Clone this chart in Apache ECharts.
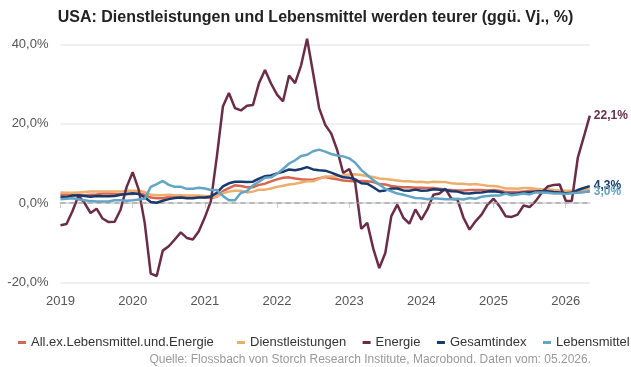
<!DOCTYPE html>
<html>
<head>
<meta charset="utf-8">
<script src="https://cdn.jsdelivr.net/npm/echarts@6/dist/echarts.min.js"></script>
<style>
  html, body { margin: 0; padding: 0; background: #ffffff; }
  #chart { width: 631px; height: 367px; }
</style>
</head>
<body>
<div id="chart"></div>
<script>
// Monthly year-over-year rates, Jan 2019 – May 2026
const firstYear = 2019;
const monthCount = 89;

const allExFoodEnergy = [
  2.2, 2.1, 2.0, 2.1, 2.0, 2.1, 2.2, 2.4, 2.4, 2.3, 2.3, 2.3,
  2.3, 2.4, 2.1, 1.4, 1.2, 1.2, 1.6, 1.7, 1.7, 1.6, 1.6, 1.6,
  1.4, 1.3, 1.6, 3.0, 3.8, 4.5, 4.3, 4.0, 4.0, 4.6, 4.9, 5.5,
  6.0, 6.4, 6.5, 6.2, 6.0, 5.9, 5.9, 6.3, 6.6, 6.3, 6.0, 5.7,
  5.6, 5.5, 5.6, 5.5, 5.3, 4.8, 4.7, 4.3, 4.1, 4.0, 4.0, 3.9,
  3.9, 3.8, 3.8, 3.6, 3.4, 3.3, 3.2, 3.2, 3.3, 3.3, 3.3, 3.2,
  3.3, 3.1, 2.8, 2.8, 2.8, 2.9, 3.1, 3.1, 3.0, 3.0, 2.9, 2.7,
  2.6, 2.6, 2.7, 2.8, 2.9
];

const services = [
  2.7, 2.6, 2.6, 2.7, 2.8, 2.9, 2.9, 2.9, 2.9, 2.9, 2.9, 3.1,
  3.1, 3.1, 2.8, 2.1, 2.0, 2.0, 2.1, 2.0, 2.0, 1.9, 1.9, 1.9,
  1.8, 1.6, 1.6, 2.5, 2.9, 3.1, 3.1, 2.7, 2.9, 3.4, 3.4, 3.7,
  4.1, 4.4, 4.7, 4.9, 5.2, 5.5, 5.5, 6.1, 6.7, 6.7, 6.8, 7.0,
  7.2, 7.3, 7.1, 6.8, 6.6, 6.2, 6.1, 5.9, 5.7, 5.5, 5.5, 5.3,
  5.4, 5.2, 5.4, 5.3, 5.3, 5.0, 4.9, 4.9, 4.7, 4.8, 4.6, 4.4,
  4.3, 4.1, 3.7, 3.7, 3.6, 3.8, 3.8, 3.6, 3.5, 3.5, 3.3, 3.2,
  3.1, 3.1, 3.2, 3.4, 3.6
];

const energy = [
  -5.6, -5.3, -2.0, 1.9, 0.0, -2.5, -1.4, -3.9, -4.8, -4.7, -1.6, 4.1,
  7.8, 3.4, -5.0, -17.8, -18.4, -12.0, -10.9, -9.2, -7.4, -8.8, -9.2, -7.1,
  -3.6, 0.5, 11.8, 24.4, 27.8, 24.0, 23.4, 24.6, 24.8, 30.3, 33.6, 30.2,
  27.4, 25.7, 32.2, 30.3, 34.8, 41.5, 32.8, 24.0, 19.8, 17.6, 13.4, 7.6,
  8.6, 5.1, -6.5, -5.0, -11.5, -16.4, -12.6, -3.3, -0.4, -3.7, -5.2, -1.6,
  -4.2, -1.6, 2.1, 2.4, 3.6, 1.1, 0.9, -3.7, -6.7, -4.6, -2.9, -0.4,
  1.1, -0.8, -3.3, -3.5, -2.9, -0.6, -1.0, 0.5, 2.6, 4.2, 4.6, 4.7,
  0.6, 0.5, 11.4, 16.7, 22.1
];

const headline = [
  1.6, 1.5, 1.9, 2.0, 1.8, 1.6, 1.8, 1.7, 1.7, 1.8, 2.1, 2.3,
  2.5, 2.3, 1.5, 0.3, 0.1, 0.6, 1.0, 1.3, 1.4, 1.2, 1.2, 1.4,
  1.4, 1.7, 2.6, 4.2, 5.0, 5.4, 5.4, 5.3, 5.4, 6.2, 6.8, 7.0,
  7.5, 7.9, 8.5, 8.3, 8.6, 9.1, 8.5, 8.3, 8.2, 7.7, 7.1, 6.5,
  6.4, 6.0, 5.0, 4.9, 4.0, 3.0, 3.2, 3.7, 3.7, 3.2, 3.1, 3.4,
  3.1, 3.2, 3.5, 3.4, 3.3, 3.0, 2.9, 2.5, 2.4, 2.6, 2.7, 2.9,
  3.0, 2.8, 2.4, 2.3, 2.4, 2.7, 2.7, 2.9, 3.0, 3.0, 2.8, 2.7,
  2.5, 2.6, 3.3, 3.8, 4.3
];

const food = [
  1.0, 1.1, 1.2, 0.9, 0.7, 0.5, 0.4, 0.4, 0.4, 0.7, 0.7, 0.6,
  0.7, 0.9, 1.1, 4.1, 4.8, 5.6, 4.6, 4.1, 4.1, 3.6, 3.6, 3.9,
  3.7, 3.3, 3.3, 1.8, 0.7, 0.7, 2.6, 3.0, 4.5, 5.4, 6.4, 6.5,
  7.4, 8.6, 10.0, 10.8, 11.9, 12.2, 13.1, 13.5, 13.0, 12.4, 12.0, 11.8,
  11.3, 10.2, 8.4, 7.1, 5.8, 4.7, 3.6, 3.0, 2.4, 2.1, 1.7, 1.3,
  1.2, 1.0, 1.2, 1.1, 1.0, 1.0, 1.1, 0.9, 1.3, 1.1, 1.6, 1.8,
  1.9, 1.9, 2.4, 2.0, 2.2, 2.4, 2.2, 2.7, 2.7, 2.6, 2.4, 2.4,
  2.3, 2.5, 2.6, 2.8, 3.0
];

const seriesNames = [
  'All.ex.Lebensmittel.und.Energie',
  'Dienstleistungen',
  'Energie',
  'Gesamtindex',
  'Lebensmittel'
];
const seriesColors = ['#d8654f', '#ecae6c', '#6a2c47', '#17396e', '#62a5c4'];
const labelledSeries = { 'Energie': true, 'Gesamtindex': true, 'Lebensmittel': true };

const yTicks = [-20, 0, 20, 40];

// Month categories "YYYY-MM"
const months = [];
for (let i = 0; i < monthCount; i++) {
  const y = firstYear + Math.floor(i / 12);
  const m = (i % 12) + 1;
  months.push(y + '-' + (m < 10 ? '0' + m : m));
}

const pct = v => v.toFixed(1).replace('.', ',') + '%';
const values = [allExFoodEnergy, services, energy, headline, food];

const chart = echarts.init(document.getElementById('chart'), null, { renderer: 'canvas' });

const series = seriesNames.map((name, k) => ({
  name: name,
  type: 'line',
  data: values[k],
  symbol: 'none',
  clip: false,
  z: 2 + k,
  lineStyle: { width: 2.5, color: seriesColors[k] },
  itemStyle: { color: seriesColors[k] },
  endLabel: labelledSeries[name] ? {
    show: true,
    formatter: p => pct(p.value),
    color: seriesColors[k],
    fontFamily: 'Liberation Sans',
    fontSize: 12,
    fontWeight: 'bold',
    distance: 4
  } : { show: false },
  markLine: k === 0 ? {
    silent: true,
    symbol: 'none',
    label: { show: false },
    lineStyle: { color: '#aaaaaa', type: [5, 4], width: 1.6 },
    data: [{ yAxis: 0 }]
  } : undefined
}));

// Shared legend look; the first entry sits in its own block
const legendBase = {
  bottom: 18,
  padding: 0,
  orient: 'horizontal',
  itemWidth: 8,
  itemHeight: 3,
  itemGap: 16.5,
  icon: 'rect',
  textStyle: { fontFamily: 'Liberation Sans', fontSize: 13, color: '#333333' }
};

chart.setOption({
  animation: false,
  backgroundColor: '#ffffff',
  textStyle: { fontFamily: 'Liberation Sans' },
  title: {
    text: 'USA: Dienstleistungen und Lebensmittel werden teurer (ggü. Vj., %)',
    left: 'center',
    top: 5,
    textStyle: { fontFamily: 'Liberation Sans', fontSize: 16, fontWeight: 'bold', color: '#222222' }
  },
  grid: { left: 60.5, right: 41.2, top: 44.7, bottom: 84.7, containLabel: false },
  legend: [
    Object.assign({}, legendBase, { left: 18, width: 215, data: seriesNames.slice(0, 1) }),
    Object.assign({}, legendBase, { left: 237, width: 430, data: seriesNames.slice(1) })
  ],
  xAxis: {
    type: 'category',
    data: months,
    boundaryGap: false,
    offset: 5,
    axisLine: { lineStyle: { color: '#dddddd', width: 2 } },
    axisTick: { interval: 11, length: 5, lineStyle: { color: '#cccccc' } },
    axisLabel: {
      interval: 11,
      margin: 8,
      fontSize: 13,
      color: '#555555',
      formatter: v => v.slice(0, 4)
    },
    splitLine: { show: false }
  },
  yAxis: {
    type: 'value',
    min: yTicks[0],
    max: yTicks[yTicks.length - 1],
    interval: 20,
    axisLine: { show: false },
    axisTick: { show: false },
    axisLabel: { margin: 12, fontSize: 13, color: '#555555', formatter: v => pct(v) },
    splitLine: { lineStyle: { color: '#ebebeb', width: 1.5 } }
  },
  graphic: [{
    type: 'text',
    right: 40,
    bottom: 1,
    style: {
      text: 'Quelle: Flossbach von Storch Research Institute, Macrobond. Daten vom: 05.2026.',
      fontFamily: 'Liberation Sans',
      fontSize: 12,
      fill: '#999999'
    }
  }],
  series: series
});
</script>
</body>
</html>
